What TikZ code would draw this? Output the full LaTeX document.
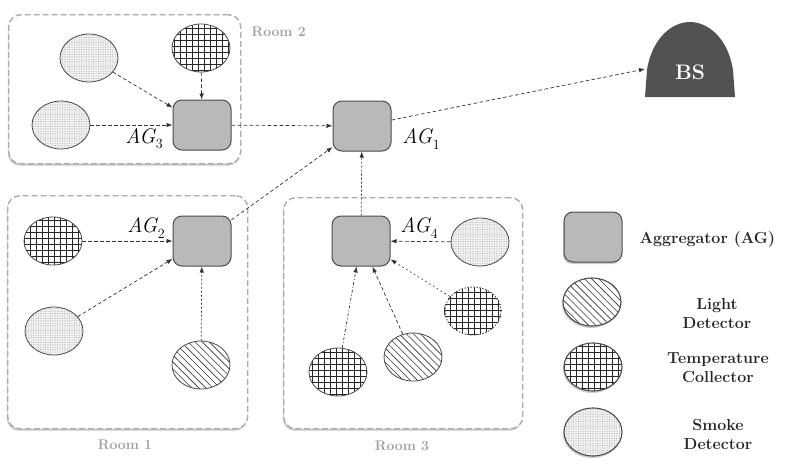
\documentclass[tikz,border=0pt]{standalone}
\usepackage{fontspec}
\usetikzlibrary{patterns.meta,shadows,arrows.meta,shapes.geometric}
\newcommand{\agname}[1]{{\itshape AG}\kern0.5pt\raisebox{-0.25em}{\fontsize{14}{14}\selectfont #1}}
\begin{document}
\begin{tikzpicture}[x=1pt,y=-1pt,
  room/.style={draw=gray!65, fill=white, line width=1.4pt, rounded corners=12pt, dash pattern=on 6pt off 3pt,
     drop shadow={shadow xshift=-0.8pt, shadow yshift=-2pt, opacity=0.45}},
  roomlabel/.style={text=gray!75, font=\fontsize{14}{16}\selectfont\bfseries\addfontfeatures{LetterSpace=8}},
  agbox/.style={draw=black!70, fill=gray!55, line width=1pt, rounded corners=9pt, minimum width=58pt, minimum height=50pt, inner sep=0pt},
  sensor/.style={ellipse, draw=black!70, line width=0.8pt, minimum width=58pt, minimum height=48pt, inner sep=0pt},
  smoke/.style={sensor, preaction={fill=gray!12}, pattern={Dots[distance=2.4pt,radius=0.45pt]}, pattern color=gray!85},
  temp/.style={sensor, preaction={fill=white}, pattern={Hatch[angle=0,distance=6pt,line width=0.7pt]}, pattern color=black!85},
  light/.style={sensor, preaction={fill=white}, pattern={Lines[angle=-45,distance=5pt,line width=0.6pt]}, pattern color=black!80},
  legshadow/.style={drop shadow={shadow xshift=-1pt, shadow yshift=-2pt, opacity=0.4}},
  aglabel/.style={font=\fontsize{21}{24}\selectfont},
  legtext/.style={align=center, font=\fontsize{16}{19}\selectfont\bfseries, text=black!85},
  conn/.style={-{Latex[length=6pt,width=4.5pt]}, dash pattern=on 3.5pt off 2.5pt, draw=black!80, line width=0.7pt}
]
\useasboundingbox (0,0) rectangle (792,472);

% rooms
\node[room, minimum width=232pt, minimum height=149pt, anchor=north west] (room2) at (8,14) {};
\node[room, minimum width=240pt, minimum height=233pt, anchor=north west] (room1) at (7,195) {};
\node[room, minimum width=239pt, minimum height=231pt, anchor=north west] (room3) at (283,197) {};
\node[roomlabel, anchor=west] (r2lab) at (248,32) {Room 2};
\node[roomlabel] (r1lab) at (125,445) {Room 1};
\node[roomlabel] (r3lab) at (402,446) {Room 3};

% room 2
\node[smoke] (s21) at (89,58) {};
\node[temp]  (t21) at (201,48) {};
\node[smoke] (s22) at (61,125) {};
\node[agbox] (ag3) at (202,125) {};
\node[aglabel] (ag3l) at (144,139) {\agname{3}};

% AG1 and BS
\node[agbox] (ag1) at (362,126) {};
\node[aglabel] (ag1l) at (421,139) {\agname{1}};
\fill[black!68] (645,97) -- (647,70) .. controls (652,38) and (672,22) .. (690,22)
   .. controls (708,22) and (728,38) .. (733,70) -- (735,97) -- cycle;
\node[text=white, font=\fontsize{21}{22}\selectfont\bfseries] (bs) at (690,72) {BS};
\coordinate (bsin) at (645,69);

% room 1
\node[temp]  (t11) at (53,241) {};
\node[smoke] (s11) at (54,331) {};
\node[light] (l11) at (201,365) {};
\node[agbox] (ag2) at (202,241) {};
\node[aglabel] (ag2l) at (146,228) {\agname{2}};

% room 3
\node[agbox] (ag4) at (361,241) {};
\node[aglabel] (ag4l) at (419,228) {\agname{4}};
\node[smoke] (s31) at (480,242) {};
\node[temp, draw=none] (t31) at (473,311) {};
\draw[black!70, line width=0.9pt, dash pattern=on 1.5pt off 1.5pt] (t31.center) ellipse [x radius=28pt, y radius=24pt];
\node[light] (l31) at (413,357) {};
\node[temp]  (t32) at (338,372) {};

% connectors
\draw[conn] (s21) -- (ag3);
\draw[conn] (t21) -- (ag3);
\draw[conn] (s22) -- (ag3);
\draw[conn] (ag3) -- (ag1);
\draw[conn] (ag1) -- (bsin);
\draw[conn] (t11) -- (ag2);
\draw[conn] (s11) -- (ag2);
\draw[conn, dash pattern=on 2pt off 2pt] (l11) -- (ag2);
\draw[conn] (ag2) -- (ag1);
\draw[conn, dash pattern=on 2pt off 2pt] (ag4) -- (ag1);
\draw[conn] (s31) -- (ag4);
\draw[conn, dash pattern=on 1.5pt off 3pt] (t31) -- (ag4);
\draw[conn] (l31) -- (ag4);
\draw[conn, dash pattern=on 3pt off 2pt on 1pt off 2pt] (t32) -- (ag4);

% legend
\node[legshadow, agbox] (legag) at (593,237) {};
\node[legshadow, light, line width=1.1pt] (legl) at (592,302) {};
\node[legshadow, temp, line width=1.1pt] (legt) at (593,367) {};
\node[legshadow, smoke, line width=1.1pt] (legs) at (593,432) {};
\node[legtext, anchor=west] (legagt) at (636,240) {Aggregator (AG)};
\node[legtext] (leglt) at (717,313) {Light\\Detector};
\node[legtext] (legtt) at (718,368) {Temperature\\Collector};
\node[legtext] (legst) at (718,434) {Smoke\\Detector};
\end{tikzpicture}
\end{document}
